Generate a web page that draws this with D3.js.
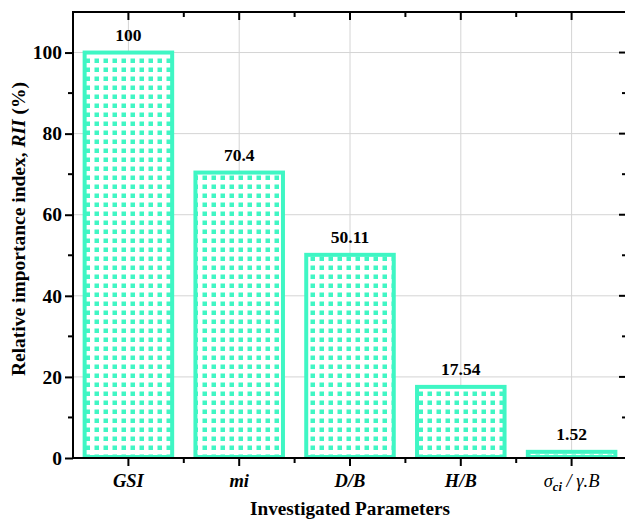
<!DOCTYPE html>
<html>
<head>
<meta charset="utf-8">
<script src="https://cdn.jsdelivr.net/npm/d3@7"></script>
<style>
  body { margin: 0; background: #fff; }
  svg { display: block; font-family: "Liberation Serif", "Times New Roman", serif; }
</style>
</head>
<body>
<svg id="chart"></svg>
<script>
const categories = ['GSI', 'mi', 'D/B', 'H/B', 'sigma'];
const values = [100, 70.4, 50.11, 17.54, 1.52];
const valueLabels = ['100', '70.4', '50.11', '17.54', '1.52'];
const yTicks = [0, 20, 40, 60, 80, 100];

const width = 625;
const height = 520;
const margin = {top: 12, right: -2, bottom: 62, left: 73};
const teal = '#3ff6c4';

const svg = d3.select('#chart')
  .attr('width', width)
  .attr('height', height);

const x = d3.scaleBand()
  .domain(categories)
  .range([margin.left, width - margin.right])
  .padding(0);

const y = d3.scaleLinear()
  .domain([0, 110])
  .range([height - margin.bottom, margin.top]);

const plotLeft = margin.left;
const plotRight = width - margin.right;
const plotTop = margin.top;
const plotBottom = height - margin.bottom;
const center = d => x(d) + x.bandwidth() / 2;

// dot pattern for bar fill
const defs = svg.append('defs');
const pattern = defs.append('pattern')
  .attr('id', 'dots')
  .attr('patternUnits', 'userSpaceOnUse')
  .attr('width', 9)
  .attr('height', 9)
  .attr('x', 2)
  .attr('y', 2);
pattern.append('rect')
  .attr('width', 9).attr('height', 9).attr('fill', '#fff');
pattern.append('rect')
  .attr('x', 2.5).attr('y', 2.5)
  .attr('width', 4.5).attr('height', 4.5)
  .attr('fill', teal);

// grid
const grid = svg.append('g').attr('stroke', '#d4d4d4').attr('stroke-width', 1);
grid.selectAll('.hgrid')
  .data(yTicks.filter(d => d > 0))
  .join('line')
  .attr('x1', plotLeft).attr('x2', plotRight)
  .attr('y1', d => y(d)).attr('y2', d => y(d));
grid.selectAll('.vgrid')
  .data(categories)
  .join('line')
  .attr('x1', center).attr('x2', center)
  .attr('y1', plotTop).attr('y2', plotBottom);

// bars
const barW = x.bandwidth() * 0.79;
svg.append('g')
  .selectAll('rect')
  .data(values)
  .join('rect')
  .attr('x', (d, i) => center(categories[i]) - barW / 2)
  .attr('y', d => y(d))
  .attr('width', barW)
  .attr('height', d => y(0) - y(d) - 1)
  .attr('fill', 'url(#dots)')
  .attr('stroke', teal)
  .attr('stroke-width', 4);

// value labels
svg.append('g')
  .selectAll('text')
  .data(values)
  .join('text')
  .attr('x', (d, i) => center(categories[i]))
  .attr('y', d => y(d) - 12)
  .attr('text-anchor', 'middle')
  .attr('font-size', 17.5)
  .attr('font-weight', 'bold')
  .text((d, i) => valueLabels[i]);

// axes
const axisColor = '#000';
const yMinor = d3.range(10, 110, 20);

const leftAxis = svg.append('g')
  .attr('transform', `translate(${plotLeft},0)`)
  .call(d3.axisLeft(y).tickValues(yTicks).tickSize(8).tickPadding(3));
leftAxis.select('.domain').remove();
leftAxis.selectAll('.tick line').attr('stroke-width', 2);
leftAxis.selectAll('.tick text')
  .attr('font-size', 19.5)
  .attr('font-weight', 'bold')
  .attr('font-family', '"Liberation Serif", serif');
leftAxis.selectAll('.minor')
  .data(yMinor)
  .join('line')
  .attr('x1', -5).attr('x2', 0)
  .attr('y1', d => y(d)).attr('y2', d => y(d))
  .attr('stroke', axisColor).attr('stroke-width', 2);

// right axis: inward ticks
const rightTicks = svg.append('g');
rightTicks.selectAll('.maj')
  .data(yTicks.filter(d => d > 0))
  .join('line')
  .attr('x1', plotRight - 8).attr('x2', plotRight)
  .attr('y1', d => y(d)).attr('y2', d => y(d))
  .attr('stroke', axisColor).attr('stroke-width', 2);
rightTicks.selectAll('.min')
  .data(yMinor)
  .join('line')
  .attr('x1', plotRight - 5).attr('x2', plotRight)
  .attr('y1', d => y(d)).attr('y2', d => y(d))
  .attr('stroke', axisColor).attr('stroke-width', 2);

// bottom axis
const xBounds = d3.range(1, categories.length).map(i => plotLeft + i * x.step());
const bottomAxis = svg.append('g')
  .attr('transform', `translate(0,${plotBottom})`)
  .call(d3.axisBottom(x).tickSize(8).tickPadding(14).tickFormat(() => ''));
bottomAxis.select('.domain').remove();
bottomAxis.selectAll('.tick line').attr('stroke-width', 2);
bottomAxis.selectAll('.minor')
  .data(xBounds)
  .join('line')
  .attr('x1', d => d).attr('x2', d => d)
  .attr('y1', 0).attr('y2', 5)
  .attr('stroke', axisColor).attr('stroke-width', 2);

// top axis: inward ticks
const topTicks = svg.append('g');
topTicks.selectAll('.maj')
  .data(categories)
  .join('line')
  .attr('x1', center).attr('x2', center)
  .attr('y1', plotTop).attr('y2', plotTop + 8)
  .attr('stroke', axisColor).attr('stroke-width', 2);
topTicks.selectAll('.min')
  .data(xBounds)
  .join('line')
  .attr('x1', d => d).attr('x2', d => d)
  .attr('y1', plotTop).attr('y2', plotTop + 5)
  .attr('stroke', axisColor).attr('stroke-width', 2);

// frame lines
svg.append('line')
  .attr('x1', plotLeft - 1).attr('x2', plotRight).attr('y1', plotTop).attr('y2', plotTop)
  .attr('stroke', axisColor).attr('stroke-width', 2);
svg.append('line')
  .attr('x1', plotLeft - 1).attr('x2', plotRight).attr('y1', plotBottom).attr('y2', plotBottom)
  .attr('stroke', axisColor).attr('stroke-width', 2);
svg.append('line')
  .attr('x1', plotLeft).attr('x2', plotLeft).attr('y1', plotTop - 1).attr('y2', plotBottom + 1)
  .attr('stroke', axisColor).attr('stroke-width', 2);

// category labels
const catLabels = svg.append('g')
  .attr('font-size', 18.5)
  .attr('font-weight', 'bold')
  .attr('font-style', 'italic')
  .attr('text-anchor', 'middle');
categories.forEach(c => {
  const t = catLabels.append('text')
    .attr('x', center(c))
    .attr('y', plotBottom + 29);
  if (c === 'sigma') {
    t.append('tspan').attr('font-weight', 'normal').text('σ');
    t.append('tspan').attr('font-size', 12.5).attr('dy', 4).text('ci');
    t.append('tspan').attr('font-weight', 'normal').attr('dy', -4).text(' / γ.B');
  } else {
    t.text(c);
  }
});

// axis titles
svg.append('text')
  .attr('x', (plotLeft + plotRight) / 2)
  .attr('y', 515)
  .attr('text-anchor', 'middle')
  .attr('font-size', 19.2)
  .attr('font-weight', 'bold')
  .text('Investigated Parameters');

const yTitle = svg.append('text')
  .attr('transform', 'translate(25,229) rotate(-90)')
  .attr('text-anchor', 'middle')
  .attr('font-size', 19.5)
  .attr('font-weight', 'bold');
yTitle.append('tspan').text('Relative importance index, ');
yTitle.append('tspan').attr('font-style', 'italic').text('RII');
yTitle.append('tspan').text(' (%)');
</script>
</body>
</html>
